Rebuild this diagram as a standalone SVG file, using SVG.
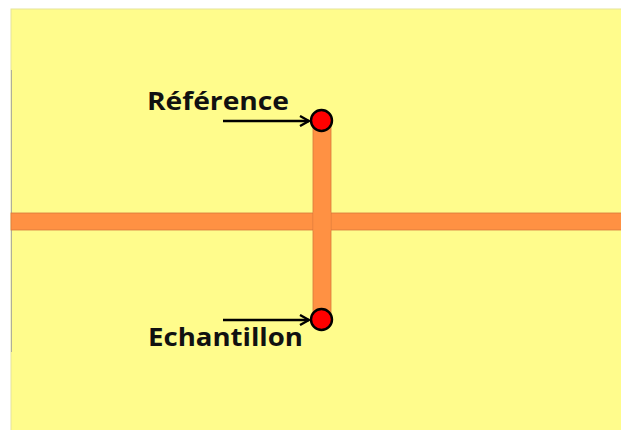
<svg xmlns="http://www.w3.org/2000/svg" width="621" height="430" viewBox="0 0 621 430">
<defs>
<style>
.band{fill:#FF9143;stroke:#D8783A;stroke-width:0.8}
.dot{fill:#FF0000;stroke:#000;stroke-width:2.4}
.arr{stroke:#000;stroke-width:2.6;fill:none;marker-end:url(#ah)}
.lbl{font-family:"Open Sans","Liberation Sans",sans-serif;font-weight:700;font-size:25px;fill:#111}
</style>
<marker id="ah" viewBox="0 0 12 12" refX="11" refY="6" markerWidth="12" markerHeight="12" markerUnits="userSpaceOnUse" orient="auto">
<path d="M2,1 L11,6 L2,11" fill="none" stroke="#000" stroke-width="2.4"/>
</marker>
</defs>
<rect x="0" y="0" width="621" height="430" fill="#fff"/>
<rect x="11" y="9" width="612" height="423" fill="#FFFC8C" stroke="#E6E39A" stroke-width="1"/>
<line x1="11.5" y1="70" x2="11.5" y2="352" stroke="#AFAF9A" stroke-width="1"/>
<g id="channels">
<rect class="band" x="11" y="213" width="612" height="17"/>
<rect class="band" x="313" y="120" width="18" height="200"/>
<rect x="313.4" y="212" width="17.2" height="19" fill="#FF9143"/>
</g>
<g id="connectors">
<line class="arr" x1="223" y1="121" x2="309" y2="121"/>
<line class="arr" x1="223" y1="320" x2="309" y2="320"/>
</g>
<g id="reference">
<circle class="dot" cx="321.5" cy="120.5" r="10.5"/>
<text class="lbl" x="147" y="110" textLength="142" lengthAdjust="spacingAndGlyphs">Référence</text>
</g>
<g id="echantillon">
<circle class="dot" cx="321.5" cy="319.5" r="10.5"/>
<text class="lbl" x="148" y="346" textLength="155" lengthAdjust="spacingAndGlyphs">Echantillon</text>
</g>
</svg>
